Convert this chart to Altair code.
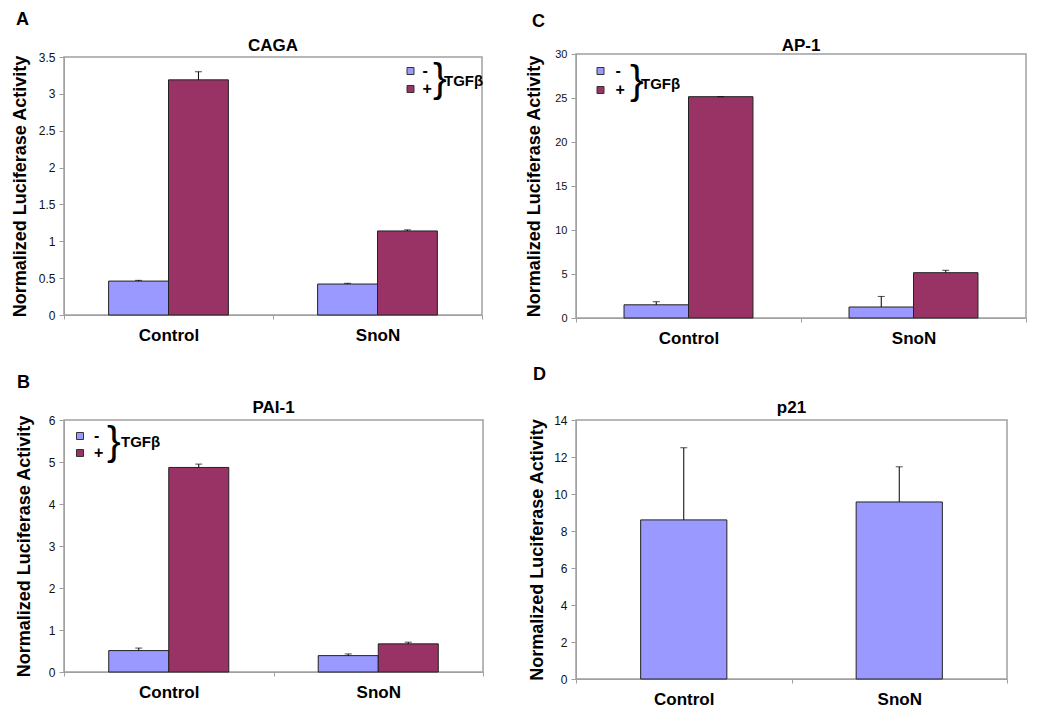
import altair as alt
import pandas as pd

FONT = "Liberation Sans, Arial, sans-serif"
BLUE = "#9999FF"
MAROON = "#993366"
GRID = "#a0a0a0"

groups = ["Control", "SnoN"]
tgf = ["-", "+"]

# Panel A - CAGA
caga_minus = [0.46, 0.42]
caga_plus = [3.19, 1.14]
caga_err_minus = [0.01, 0.01]
caga_err_plus = [0.11, 0.015]
caga_ticks = [0, 0.5, 1, 1.5, 2, 2.5, 3, 3.5]

# Panel C - AP-1
ap1_minus = [1.5, 1.25]
ap1_plus = [25.15, 5.15]
ap1_err_minus = [0.35, 1.2]
ap1_err_plus = [0.0, 0.27]
ap1_ticks = [0, 5, 10, 15, 20, 25, 30]

# Panel B - PAI-1
pai_minus = [0.51, 0.39]
pai_plus = [4.87, 0.67]
pai_err_minus = [0.06, 0.04]
pai_err_plus = [0.08, 0.04]
pai_ticks = [0, 1, 2, 3, 4, 5, 6]

# Panel D - p21
p21_vals = [8.6, 9.57]
p21_err = [3.9, 1.9]
p21_ticks = [0, 2, 4, 6, 8, 10, 12, 14]

YTITLE = "Normalized Luciferase Activity"


def x_axis():
    return alt.Axis(title=None, labelAngle=0, labelFont=FONT, labelFontSize=17,
                    labelFontWeight="bold", labelColor="black", tickBand="extent",
                    tickSize=4, tickColor=GRID, domainColor=GRID, labelPadding=8)


def y_axis(ticks, title_x, label_size=12):
    return alt.Axis(title=YTITLE, values=ticks, format="~g", tickSize=5, tickColor=GRID,
                    domainColor=GRID, labelPadding=4, labelFont=FONT,
                    labelFontSize=label_size, labelColor="#111", grid=False,
                    titleFont=FONT, titleFontSize=18, titleFontWeight="bold",
                    titleColor="black", titleX=title_x, titleBaseline="bottom")


def text_layer(txt, x, y, size, weight="bold", baseline="top", align="left"):
    return alt.Chart(pd.DataFrame({"t": [txt]})).mark_text(
        font=FONT, fontSize=size, fontWeight=weight, align=align,
        baseline=baseline, color="black"
    ).encode(text="t:N", x=alt.value(x), y=alt.value(y))


def grouped(letter, letter_pos, title, title_y, minus, plus, err_minus, err_plus,
            ticks, title_x, w, h, leg, label_size=12):
    rows = []
    for i, g in enumerate(groups):
        rows.append({"group": g, "tgf": "-", "value": minus[i], "top": minus[i] + err_minus[i]})
        rows.append({"group": g, "tgf": "+", "value": plus[i], "top": plus[i] + err_plus[i]})
    df = pd.DataFrame(rows)
    yscale = alt.Scale(domain=[ticks[0], ticks[-1]], nice=False, zero=True)
    yax = y_axis(ticks, title_x, label_size)
    base = alt.Chart(df).encode(
        x=alt.X("group:N", sort=groups, scale=alt.Scale(paddingInner=0, paddingOuter=0), axis=x_axis()),
        xOffset=alt.XOffset("tgf:N", sort=tgf, scale=alt.Scale(paddingInner=0, paddingOuter=0.745)),
    )
    lx, ly, rowpad, loff, bx, by, tx, ty = leg
    bars = base.mark_bar(stroke="#222", strokeWidth=1).encode(
        y=alt.Y("value:Q", scale=yscale, axis=yax),
        color=alt.Color("tgf:N", sort=tgf,
                        scale=alt.Scale(domain=tgf, range=[BLUE, MAROON]),
                        legend=alt.Legend(orient="none", legendX=lx, legendY=ly, title=None,
                                          symbolType="square", symbolSize=49,
                                          symbolStrokeColor="#333", symbolStrokeWidth=1,
                                          labelFont=FONT, labelFontSize=16, labelFontWeight="bold",
                                          labelColor="black", labelOffset=loff,
                                          rowPadding=rowpad, padding=0)),
    )
    err = base.mark_rule(color="black", strokeWidth=1).encode(
        y=alt.Y("value:Q", scale=yscale, axis=yax), y2="top:Q")
    caps = base.mark_tick(color="black", size=7, thickness=1).encode(
        y=alt.Y("top:Q", scale=yscale, axis=yax))
    brace = text_layer("}", bx, by, 41, weight="normal", baseline="middle")
    tgf_lbl = text_layer("TGFβ", tx, ty, 15, baseline="middle")
    let = text_layer(letter, letter_pos[0], letter_pos[1], 18)
    ttl = text_layer(title, w / 2, title_y, 17, baseline="alphabetic", align="center")
    return alt.layer(bars, err, caps, brace, tgf_lbl, let, ttl).properties(width=w, height=h)


A = grouped("A", (-48, -46), "CAGA", -6, caga_minus, caga_plus, caga_err_minus, caga_err_plus,
            caga_ticks, -35, 418, 258, (338.5, 6, 2, 4, 369, 23, 380, 24))
C = grouped("C", (-44, -41), "AP-1", -3, ap1_minus, ap1_plus, ap1_err_minus, ap1_err_plus,
            ap1_ticks, -33, 450, 264, (16.5, 9, 3, 7, 54, 28, 65, 30), label_size=11)
B = grouped("B", (-47, -46), "PAI-1", -7, pai_minus, pai_plus, pai_err_minus, pai_err_plus,
            pai_ticks, -31, 419, 252, (8, 8, 1, 6, 43, 22.5, 57, 22))

# Panel D
df_d = pd.DataFrame({"group": groups, "value": p21_vals,
                     "top": [v + e for v, e in zip(p21_vals, p21_err)]})
ys_d = alt.Scale(domain=[0, 14], nice=False)
yax_d = y_axis(p21_ticks, -30)
base_d = alt.Chart(df_d).encode(
    x=alt.X("group:N", sort=groups, scale=alt.Scale(paddingInner=0, paddingOuter=0), axis=x_axis()))
bars_d = base_d.mark_bar(color=BLUE, stroke="#222", strokeWidth=1,
                         width=alt.RelativeBandSize(0.4)).encode(
    y=alt.Y("value:Q", scale=ys_d, axis=yax_d))
err_d = base_d.mark_rule(color="black", strokeWidth=1).encode(
    y=alt.Y("value:Q", scale=ys_d, axis=yax_d), y2="top:Q")
caps_d = base_d.mark_tick(color="black", size=7, thickness=1).encode(
    y=alt.Y("top:Q", scale=ys_d, axis=yax_d))
D = alt.layer(bars_d, err_d, caps_d, text_layer("D", -43, -54, 18),
              text_layer("p21", 431 / 2, -7, 17, baseline="alphabetic", align="center")
              ).properties(width=431, height=259)

chart = alt.concat(
    A, C, B, D, columns=2, spacing=alt.RowColnumber(row=102, column=93),
    align="each", bounds="flush", center=alt.RowColboolean(row=True, column=False)
).resolve_scale(
    x="independent", y="independent", color="independent", xOffset="independent"
).resolve_legend(color="independent").properties(
    padding={"left": 2, "top": 2, "right": 5, "bottom": 5}
).configure_view(stroke=GRID, strokeWidth=1.5)

chart.save("out.html", embed_options={"renderer": "svg", "actions": False})
